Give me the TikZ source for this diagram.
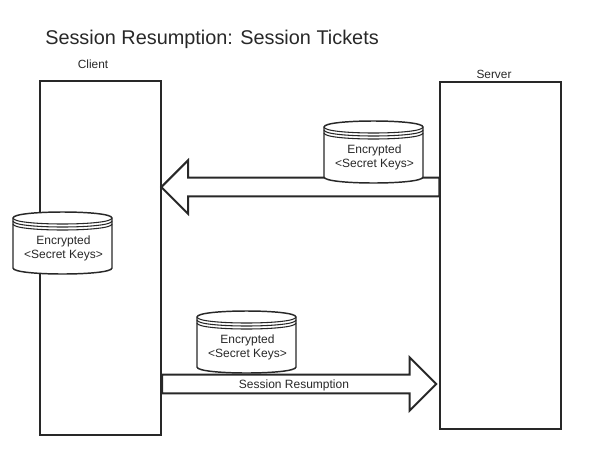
\documentclass[tikz,border=0pt]{standalone}
\usepackage{fontspec}
\usetikzlibrary{shapes.arrows}
\setmainfont{Liberation Sans}
\definecolor{inkgrey}{RGB}{40,40,40}
\tikzset{
  hostbox/.style={draw=inkgrey,line width=1.5pt,minimum width=90.75pt,inner sep=0pt},
  keyline/.style={draw=inkgrey,line width=1.1pt},
  keytext/.style={align=center,inner sep=0pt,text=inkgrey,font=\fontsize{9}{10.5}\selectfont},
  hostlabel/.style={inner sep=0pt,text=inkgrey,font=\fontsize{8.9}{10}\selectfont},
  blockarrow/.style={single arrow,draw=inkgrey,line width=1.5pt,fill=white,inner sep=0pt,
    text height=12.5pt,text depth=0pt,text width=0pt,
    minimum width=39pt,single arrow head extend=13pt,single arrow tip angle=90}
}
\newcommand{\keystore}[3]{
  \begin{scope}[shift={(#2,#3)}]
    \draw[keyline,fill=white] (-49.5,-25) .. controls (-49.5,-33) and (49.5,-33) .. (49.5,-25)
      -- (49.5,25) .. controls (49.5,33) and (-49.5,33) .. (-49.5,25) -- cycle;
    \draw[keyline,line width=.8pt] (-49.5,-25) .. controls (-49.5,-17) and (49.5,-17) .. (49.5,-25);
    \draw[keyline,line width=.8pt] (-49.5,-22) .. controls (-49.5,-14) and (49.5,-14) .. (49.5,-22);
    \draw[keyline,line width=.8pt] (-49.5,-19) .. controls (-49.5,-11) and (49.5,-11) .. (49.5,-19);
    \draw (1,5) node[keytext](#1) {Encrypted\\\textless Secret Keys\textgreater};
  \end{scope}
}
\begin{document}
\begin{tikzpicture}[x=0.75pt,y=-0.75pt]
\useasboundingbox (0,0) rectangle (606,457);
\draw (212,39) node[inner sep=0pt,text=inkgrey,font=\fontsize{14.9}{18}\selectfont](title) {Session Resumption: Session Tickets};
\draw (93,64) node[hostlabel](clientlabel) {Client};
\draw (494,74) node[hostlabel](serverlabel) {Server};
\draw (100.5,258) node[hostbox,minimum height=265.5pt](client) {};
\draw (500.5,255.5) node[hostbox,minimum height=260.25pt](server) {};
\draw (305,187) node[blockarrow,minimum height=208.5pt,shape border rotate=180](reply) {};
\draw (294.5,384) node[blockarrow,minimum height=205.5pt](resume) {};
\draw (294,385) node[keytext](resumelabel) {Session Resumption};
\keystore{ticketserver}{373.5}{152}
\keystore{ticketclient}{62.5}{243}
\keystore{ticketresume}{246.5}{342}
\end{tikzpicture}
\end{document}
